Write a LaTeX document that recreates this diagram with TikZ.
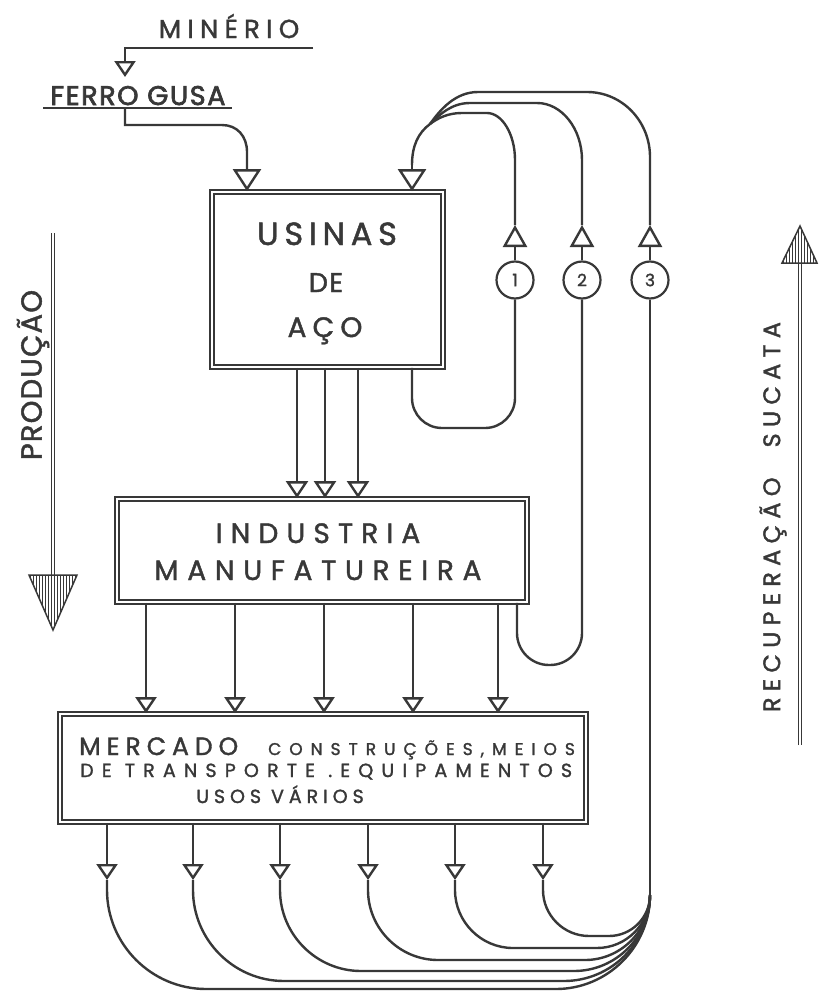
\documentclass[tikz,border=0pt]{standalone}
\usepackage{fontspec}
\setmainfont{Poppins}
\newfontfamily\inkfont{Poppins}[FakeBold=1.5]
\usetikzlibrary{arrows.meta,patterns}
\definecolor{ink}{HTML}{383838}
\newcommand{\trk}[2]{{\addfontfeatures{LetterSpace=#1}#2}}
\newcommand{\fs}[1]{\inkfont\fontsize{#1}{#1}\selectfont}
\begin{document}
\begin{tikzpicture}[x=1pt,y=1pt,yscale=-1,
  flow/.style={draw=ink,line width=2.4pt},
  box/.style={draw=ink,line width=1.7pt,double=white,double distance=2.8pt,inner sep=0pt},
  txt/.style={text=ink,inner sep=0pt,anchor=base},
  circ/.style={circle,draw=ink,line width=2.2pt,minimum size=37pt,inner sep=0pt,text=ink,font=\fs{17}},
  tipB/.style={-{Triangle[open,length=22pt,width=28pt]}},
  tipM/.style={-{Triangle[open,length=17pt,width=22pt]}},
  tipS/.style={-{Triangle[open,length=16pt,width=21pt]}},
  tipU/.style={-{Triangle[open,length=22pt,width=24pt]}},
  bigline/.style={draw=ink,line width=1.2pt,double=white,double distance=2.4pt},
  hatch/.style={draw=ink,line width=1.5pt,pattern=vertical lines,pattern color=ink}]
\fill[white] (0,0) rectangle (819,993);
\useasboundingbox (0,0) rectangle (819,993);

% ---------- boxes ----------
\node[box,minimum width=231pt,minimum height=175pt] (usinas) at (327.5,279.5) {};
\node[box,minimum width=410pt,minimum height=103pt] (industria) at (322,550.5) {};
\node[box,minimum width=526pt,minimum height=108pt] (mercado) at (323,768) {};

% ---------- texts ----------
\node[txt] (minerio) at (229,38) {\fs{26}\trk{24}{MINÉRIO}};
\node[txt] (ferro) at (138,105) {\fs{27}\addfontfeatures{FakeBold=2.6}\trk{6}{FERRO GUSA}};
\node[txt] (t-usinas) at (327,245) {\fs{32}\trk{18}{USINAS}};
\node[txt] (t-de) at (326,292) {\fs{27}\trk{5}{DE}};
\node[txt] (t-aco) at (325,337) {\fs{28}\trk{22}{AÇO}};
\node[txt] (t-ind1) at (318,543) {\fs{28}\trk{29}{INDUSTRIA}};
\node[txt] (t-ind2) at (318,580) {\fs{28}\trk{31}{MANUFATUREIRA}};
\node[txt,anchor=base west] (t-merc) at (79,755) {\fs{25}\trk{24}{MERCADO}};
\node[txt,anchor=base west] (t-cons) at (268,755) {\fs{17}\trk{47}{CONSTRUÇÕES,MEIOS}};
\node[txt,anchor=base west] (t-transp) at (80,777) {\fs{19}\trk{43}{DE TRANSPORTE .EQUIPAMENTOS}};
\node[txt] (t-usos) at (280,803) {\fs{19}\trk{26}{USOS VÁRIOS}};
\node[txt,rotate=90,anchor=center] (prod) at (33,375) {\fs{29}\trk{4}{PRODUÇÃO}};
\node[txt,rotate=90,anchor=center] (recup) at (773,517) {\fs{24}\trk{26}{RECUPERAÇÃO\hspace{30pt}SUCATA}};

% ---------- circles ----------
\node[circ] (c1) at (515,280) {1};
\node[circ] (c2) at (582,280) {2};
\node[circ] (c3) at (650,280) {3};

% ---------- ore / pig iron ----------
\coordinate (minR) at (313,48);
\coordinate (minL) at (125,48);
\coordinate (minTip) at (125,77);
\draw[flow,tipS] (minR) -- (minL) -- (minTip);
\coordinate (ferroL) at (43,108);
\coordinate (ferroR) at (232,108);
\draw[flow] (ferroL) -- (ferroR);
\coordinate (feedTop) at (125,108);
\draw[flow,tipB] (feedTop) -- (125,125) -- (222,125) .. controls (237,125) and (247,136) .. (247,152) -- (247,0 |- usinas.north);

% ---------- scrap return loops (top) ----------
\coordinate (merge) at (430,124);
\coordinate (drop) at (412,165);
\draw[flow,tipU] (c1.north) -- (515,225);
\draw[flow,tipU] (c2.north) -- (582,225);
\draw[flow,tipU] (c3.north) -- (650,225);
\draw[flow] (515,225) -- (515,160) .. controls (515,134) and (502,113) .. (487,113) -- (462,113) .. controls (448,113) and (438,118) .. (merge);
\draw[flow] (582,225) -- (582,160) .. controls (582,129) and (562,103) .. (537,103) -- (470,103) .. controls (452,103) and (440,114) .. (merge);
\draw[flow] (650,225) -- (650,157) .. controls (650,121) and (622,92) .. (587,92) -- (478,92) .. controls (455,92) and (440,110) .. (merge);
\draw[flow] (merge) .. controls (418,133) and (412,146) .. (drop);
\draw[flow,tipB] (drop) -- (412,0 |- usinas.north);

% ---------- scrap loops (bottom) ----------
\draw[flow,rounded corners=30pt] (412,0 |- usinas.south) -- (412,428) -- (515,428) -- (c1.south);
\draw[flow,rounded corners=32pt] (517,0 |- industria.south) -- (517,665) -- (582,665) -- (c2.south);

% ---------- production arrows ----------
\foreach \x in {297,325,358}
  \draw[flow,tipM] (\x,0 |- usinas.south) -- (\x,0 |- industria.north);
\foreach \x in {146,235,324,413,498}
  \draw[flow,tipS] (\x,0 |- industria.south) -- (\x,0 |- mercado.north);

% ---------- market outputs and scrap fan ----------
\coordinate (fanEnd) at (650,895);
\foreach \x/\yy in {107/989,193/981,280/971,368/960,455/948,543/936}{
  \pgfmathsetmacro{\r}{\yy-890}
  \pgfmathsetmacro{\ca}{890+0.55*\r}
  \pgfmathsetmacro{\hx}{\x+\r}
  \pgfmathsetmacro{\cb}{\hx-0.55*\r}
  \pgfmathsetmacro{\ex}{650-(\yy-895)}
  \pgfmathsetmacro{\cc}{\ex+0.55*(\yy-895)}
  \pgfmathsetmacro{\cd}{895+0.55*(\yy-895)}
  \draw[flow,tipS] (\x,0 |- mercado.south) -- (\x,880);
  \draw[flow] (\x,880) -- (\x,890) .. controls (\x,\ca) and (\cb,\yy) .. (\hx,\yy) -- (\ex,\yy) .. controls (\cc,\yy) and (650,\cd) .. (fanEnd);
}
\draw[flow] (fanEnd) -- (c3.south);

% ---------- side arrows ----------
\coordinate (prodTop) at (53,233);
\coordinate (prodBot) at (53,576);
\draw[bigline] (prodTop) -- (prodBot);
\draw[hatch] (29,575) -- (77,575) -- (53,630) -- cycle;
\coordinate (recBot) at (800,745);
\coordinate (recTop) at (800,262);
\draw[bigline] (recBot) -- (recTop);
\draw[hatch] (782,263) -- (817,263) -- (800,226) -- cycle;
\end{tikzpicture}
\end{document}
